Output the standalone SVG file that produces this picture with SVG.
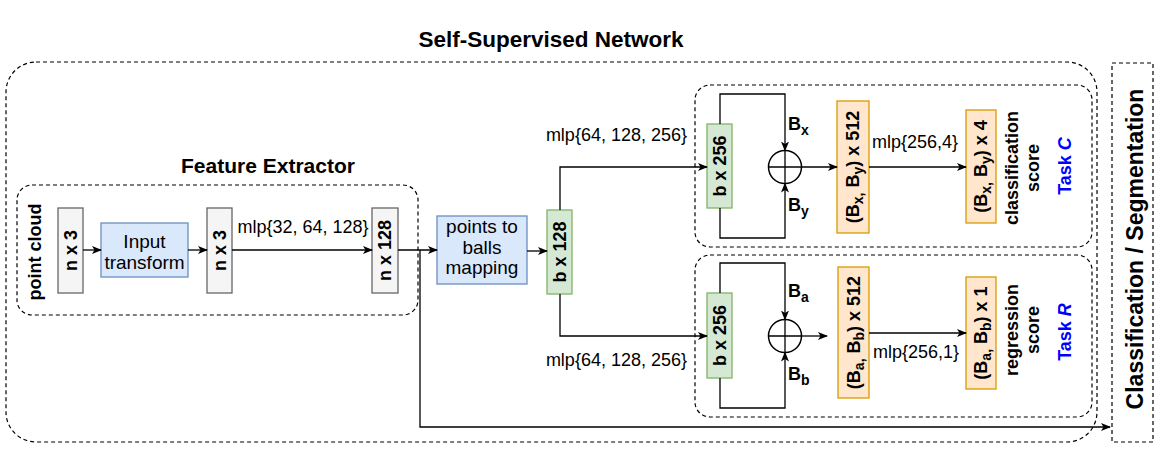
<svg xmlns="http://www.w3.org/2000/svg" width="1160" height="449" viewBox="0 0 1160 449">
<style>
text{font-family:"Liberation Sans",Arial,sans-serif;fill:#000}
.dash{fill:none;stroke:#000;stroke-width:1.2;stroke-dasharray:4 3}
.gray{fill:#f5f5f5;stroke:#666666;stroke-width:1.3}
.blue{fill:#dae8fc;stroke:#6c8ebf;stroke-width:1.3}
.green{fill:#d5e8d4;stroke:#82b366;stroke-width:1.3}
.orange{fill:#ffe6cc;stroke:#d79b00;stroke-width:1.3}
.lbl{font-size:18px;font-weight:bold;text-anchor:middle;dominant-baseline:central}
.reg{font-size:18px}
.mid{text-anchor:middle}
.title{font-size:21px;font-weight:bold;text-anchor:middle}
.task{font-size:18px;font-weight:bold;fill:#0000ff;text-anchor:middle;dominant-baseline:central}
.sub{font-size:14px}
.conn{fill:none;stroke:#000;stroke-width:1.3}
</style>
<defs>
<marker id="arr" viewBox="0 0 10 8" refX="9" refY="4" markerWidth="10" markerHeight="8" markerUnits="userSpaceOnUse" orient="auto">
<path d="M0,0 L10,4 L0,8 L2.5,4 z" fill="#000"/>
</marker>
</defs>

<text class="title" style="font-size:22.5px" x="551" y="47">Self-Supervised Network</text>

<g id="self-supervised-network"><rect class="dash" x="6" y="62" width="1091" height="380" rx="30"/></g>
<g id="classification-segmentation">
<rect class="dash" x="1112" y="63" width="41" height="379"/>
<text class="lbl" style="font-size:23px" x="1135" y="249" transform="rotate(-90 1135 249)">Classification / Segmentation</text>
</g>

<g id="feature-extractor">
<rect class="dash" x="17" y="185" width="401" height="130" rx="15"/>
<text class="title" x="268" y="173">Feature Extractor</text>
</g>
<g id="point-cloud"><text class="lbl" x="35" y="252" transform="rotate(-90 35 252)">point cloud</text></g>
<g id="nx3-a"><rect class="gray" x="58" y="208" width="25" height="85"/><text class="lbl" x="70.5" y="250.5" transform="rotate(-90 70.5 250.5)">n x 3</text></g>
<g id="input-transform"><rect class="blue" x="101" y="223" width="87" height="54"/>
<text class="reg mid" style="font-size:19px" x="144.5" y="248">Input</text>
<text class="reg mid" style="font-size:19px" x="144.5" y="269">transform</text></g>
<g id="nx3-b"><rect class="gray" x="207" y="208" width="25" height="85"/><text class="lbl" x="219.5" y="250.5" transform="rotate(-90 219.5 250.5)">n x 3</text></g>
<g id="nx128"><rect class="gray" x="372" y="208" width="26" height="85"/><text class="lbl" x="385" y="250.5" transform="rotate(-90 385 250.5)">n x 128</text></g>
<g id="points-to-balls"><rect class="blue" x="437" y="216" width="90" height="68"/>
<text class="reg mid" style="font-size:19px" x="482" y="233">points to</text>
<text class="reg mid" style="font-size:19px" x="482" y="254">balls</text>
<text class="reg mid" style="font-size:19px" x="482" y="274">mapping</text></g>
<g id="bx128"><rect class="green" x="547" y="210" width="25" height="84"/><text class="lbl" x="559.5" y="252" transform="rotate(-90 559.5 252)">b x 128</text></g>

<g id="task-c">
<rect class="dash" x="695" y="85" width="397" height="162" rx="15"/>
<text class="task" x="1065" y="166" transform="rotate(-90 1065 166)">Task <tspan font-style="italic">C</tspan></text>
</g>
<g id="bx256-c"><rect class="green" x="707" y="124" width="25" height="84"/><text class="lbl" x="719.5" y="166" transform="rotate(-90 719.5 166)">b x 256</text></g>
<g id="sum-c"><circle cx="785" cy="167" r="16.5" fill="#fff" stroke="#000" stroke-width="1.5"/><path class="conn" d="M768.5,167 H801.5 M785,150.5 V183.5"/></g>
<g id="bxby512"><rect class="orange" x="837" y="101" width="32" height="132"/><text class="lbl" x="853" y="167" transform="rotate(-90 853 167)">(B<tspan class="sub" dy="5">x,</tspan><tspan dy="-5"> B</tspan><tspan class="sub" dy="5">y</tspan><tspan dy="-5">) x 512</tspan></text></g>
<g id="bxby4"><rect class="orange" x="966" y="110" width="30" height="113"/><text class="lbl" x="981" y="166.5" transform="rotate(-90 981 166.5)">(B<tspan class="sub" dy="5">x,</tspan><tspan dy="-5"> B</tspan><tspan class="sub" dy="5">y</tspan><tspan dy="-5">) x 4</tspan></text></g>
<g id="classification-score">
<text class="lbl" x="1012" y="168" transform="rotate(-90 1012 168)">classification</text>
<text class="lbl" x="1033" y="168" transform="rotate(-90 1033 168)">score</text>
</g>

<g id="task-r">
<rect class="dash" x="695" y="255" width="397" height="162" rx="15"/>
<text class="task" x="1065" y="332" transform="rotate(-90 1065 332)">Task <tspan font-style="italic">R</tspan></text>
</g>
<g id="bx256-r"><rect class="green" x="707" y="293" width="25" height="85"/><text class="lbl" x="719.5" y="335.5" transform="rotate(-90 719.5 335.5)">b x 256</text></g>
<g id="sum-r"><circle cx="785" cy="336" r="16.5" fill="#fff" stroke="#000" stroke-width="1.5"/><path class="conn" d="M768.5,336 H801.5 M785,319.5 V352.5"/></g>
<g id="babb512"><rect class="orange" x="838" y="267" width="31" height="131"/><text class="lbl" x="853.5" y="332.5" transform="rotate(-90 853.5 332.5)">(B<tspan class="sub" dy="5">a,</tspan><tspan dy="-5"> B</tspan><tspan class="sub" dy="5">b</tspan><tspan dy="-5">) x 512</tspan></text></g>
<g id="babb1"><rect class="orange" x="966" y="277" width="30" height="112"/><text class="lbl" x="981" y="333" transform="rotate(-90 981 333)">(B<tspan class="sub" dy="5">a,</tspan><tspan dy="-5"> B</tspan><tspan class="sub" dy="5">b</tspan><tspan dy="-5">) x 1</tspan></text></g>
<g id="regression-score">
<text class="lbl" x="1012" y="330" transform="rotate(-90 1012 330)">regression</text>
<text class="lbl" x="1033" y="330" transform="rotate(-90 1033 330)">score</text>
</g>

<g id="connectors">
<path class="conn" marker-end="url(#arr)" d="M83,250 H101"/>
<path class="conn" marker-end="url(#arr)" d="M188,250 H207"/>
<path class="conn" marker-end="url(#arr)" d="M232,250 H372"/>
<path class="conn" marker-end="url(#arr)" d="M398,250 H437"/>
<path class="conn" marker-end="url(#arr)" d="M420,250 V427 H1110"/>
<path class="conn" marker-end="url(#arr)" d="M527,251 H547"/>
<path class="conn" marker-end="url(#arr)" d="M560,210 V167 H707"/>
<path class="conn" marker-end="url(#arr)" d="M560,294 V336 H707"/>
<path class="conn" marker-end="url(#arr)" d="M720,124 V94 H785 V150.5"/>
<path class="conn" marker-end="url(#arr)" d="M720,208 V238 H785 V183.5"/>
<path class="conn" marker-end="url(#arr)" d="M801.5,167 H837"/>
<path class="conn" marker-end="url(#arr)" d="M869,167 H966"/>
<path class="conn" marker-end="url(#arr)" d="M720,293 V263 H785 V319.5"/>
<path class="conn" marker-end="url(#arr)" d="M720,378 V408 H785 V352.5"/>
<path class="conn" marker-end="url(#arr)" d="M801.5,336 H827"/>
<path class="conn" marker-end="url(#arr)" d="M869,333 H966"/>
<text class="reg mid" x="303" y="233">mlp{32, 64, 128}</text>
<text class="reg" text-anchor="end" x="687" y="141">mlp{64, 128, 256}</text>
<text class="reg" text-anchor="end" x="687" y="366">mlp{64, 128, 256}</text>
<text class="reg mid" x="915" y="148">mlp{256,4}</text>
<text class="reg mid" x="916" y="358">mlp{256,1}</text>
<text style="font-size:18px;font-weight:bold" x="788" y="130">B<tspan class="sub" dy="5">x</tspan></text>
<text style="font-size:18px;font-weight:bold" x="788" y="211">B<tspan class="sub" dy="5">y</tspan></text>
<text style="font-size:18px;font-weight:bold" x="788" y="297">B<tspan class="sub" dy="5">a</tspan></text>
<text style="font-size:18px;font-weight:bold" x="788" y="380">B<tspan class="sub" dy="5">b</tspan></text>
</g>
</svg>
